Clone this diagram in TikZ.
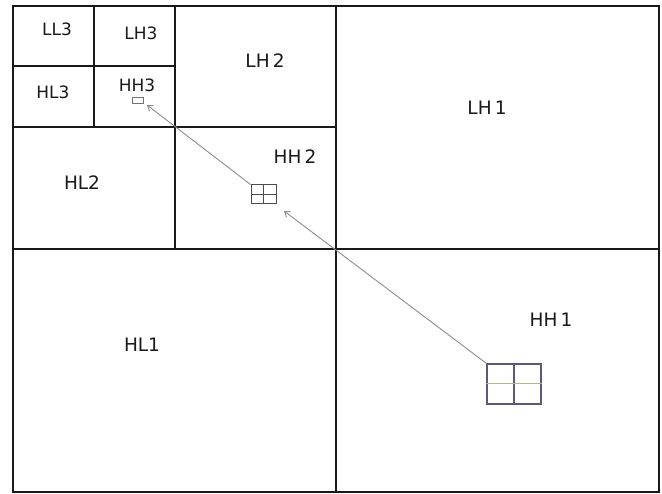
\documentclass[tikz,border=0pt]{standalone}
\usepackage{fontspec}
\setmainfont{DejaVu Sans}
\usetikzlibrary{arrows.meta}
\definecolor{blockc}{HTML}{5A5A78}
\definecolor{midc}{HTML}{B4B48C}
\begin{document}
\begin{tikzpicture}[x=1pt,y=-1pt,
  frame/.style={line width=2.8pt,draw=black!90},
  split/.style={line width=2.1pt,draw=black!90},
  big/.style={font=\fontsize{18.5}{19}\selectfont,text=black!90,inner sep=0pt},
  small/.style={font=\fontsize{17}{17}\selectfont,text=black!90,inner sep=0pt},
  link/.style={draw=black!45,line width=0.9pt,-{Straight Barb[length=5pt,width=7pt]}}]
\useasboundingbox (0,0) rectangle (662,494);
% outer frame and splits
\draw[frame] (13,6) rectangle (659,492);
\draw[split] (336,6) -- (336,492);
\draw[split] (13,249) -- (659,249);
\draw[split] (175,6) -- (175,249);
\draw[split] (13,127) -- (336,127);
\draw[split] (94,6) -- (94,127);
\draw[split] (13,66) -- (175,66);
% labels
\node[small] (ll3) at (57,29) {LL3};
\node[small] (lh3) at (141,33) {LH3};
\node[small] (hl3) at (53,92) {HL3};
\node[small] (hh3) at (137,85) {HH3};
\node[big] (lh2) at (265,61) {LH\,2};
\node[big] (hh2) at (295,157) {HH\,2};
\node[big] (hl2) at (82,183) {HL2};
\node[big] (lh1) at (487,108) {LH\,1};
\node[big] (hh1) at (551,320) {HH\,1};
\node[big] (hl1) at (142,345) {HL1};
% coefficient blocks
\node[draw=black!55,line width=0.9pt,minimum width=11pt,minimum height=6pt,inner sep=0pt] (b3) at (137.5,100) {};
\node[draw=black!70,line width=1pt,minimum width=25pt,minimum height=19pt,inner sep=0pt] (b2) at (263.5,194.5) {};
\draw[black!70,line width=1pt] (b2.north) -- (b2.south) (b2.west) -- (b2.east);
\node[draw=blockc,line width=1.2pt,minimum width=54pt,minimum height=40pt,inner sep=0pt] (b1) at (514,384) {};
\draw[blockc,line width=1.2pt] (b1.north) -- (b1.south);
\draw[midc,line width=1pt] (b1.west) -- (b1.east);
% arrows
\coordinate (t2) at (284,211);
\coordinate (t3) at (147,105);
\draw[link] (b1.north west) -- (t2);
\draw[link] (b2.north west) -- (t3);
\end{tikzpicture}
\end{document}
